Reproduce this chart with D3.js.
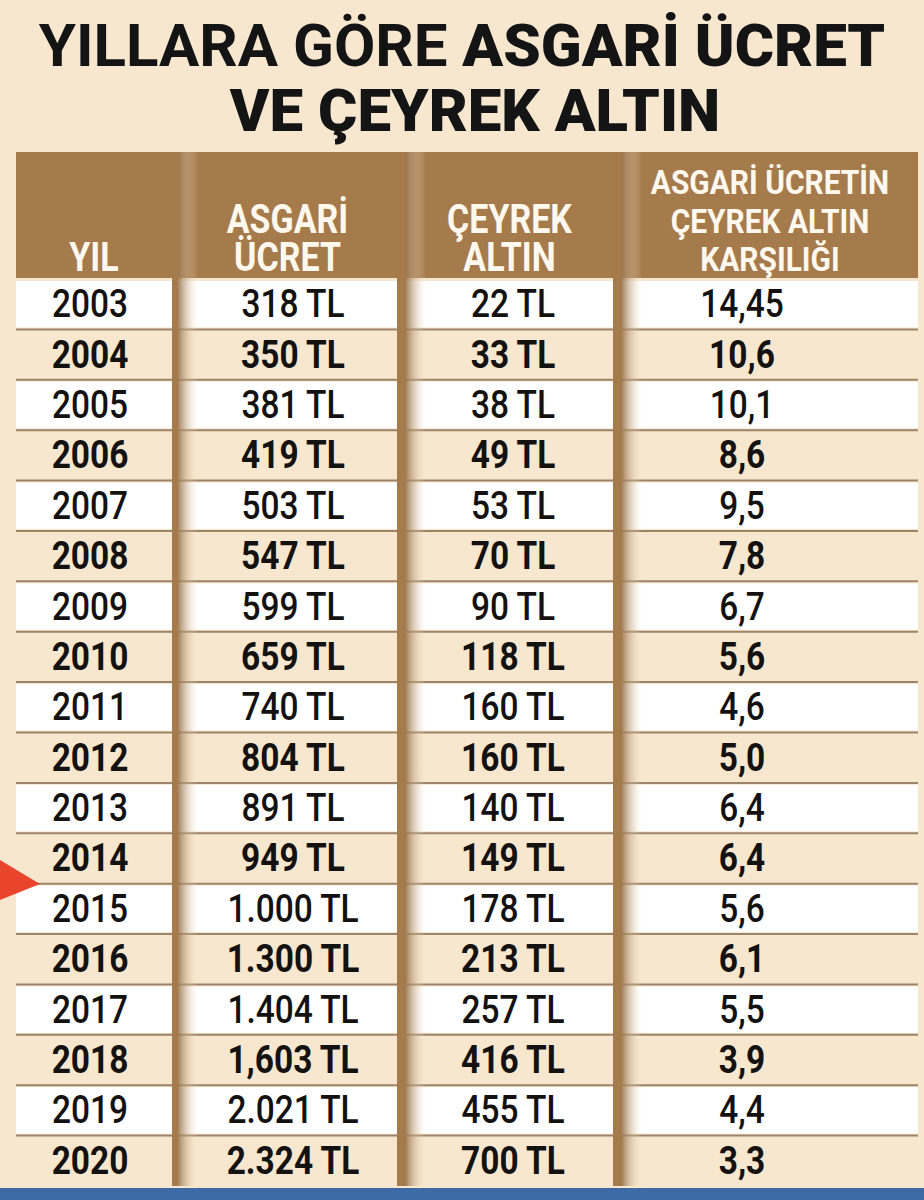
<!DOCTYPE html>
<html><head><meta charset="utf-8">
<script src="https://cdn.jsdelivr.net/npm/d3@7"></script>
<style>body{margin:0;background:#f8e7cf}</style></head>
<body><svg id="c" width="924" height="1200"></svg>
<script>
const years=["2003","2004","2005","2006","2007","2008","2009","2010","2011","2012","2013","2014","2015","2016","2017","2018","2019","2020"];
const asgari=["318 TL","350 TL","381 TL","419 TL","503 TL","547 TL","599 TL","659 TL","740 TL","804 TL","891 TL","949 TL","1.000 TL","1.300 TL","1.404 TL","1,603 TL","2.021 TL","2.324 TL"];
const ceyrek=["22 TL","33 TL","38 TL","49 TL","53 TL","70 TL","90 TL","118 TL","160 TL","160 TL","140 TL","149 TL","178 TL","213 TL","257 TL","416 TL","455 TL","700 TL"];
const oran=["14,45","10,6","10,1","8,6","9,5","7,8","6,7","5,6","4,6","5,0","6,4","6,4","5,6","6,1","5,5","3,9","4,4","3,3"];
const headers=[["YIL"],["ASGARİ","ÜCRET"],["ÇEYREK","ALTIN"],["ASGARİ ÜCRETİN","ÇEYREK ALTIN","KARŞILIĞI"]];

const svg=d3.select("#c");
const F="Roboto, 'DejaVu Sans Condensed', sans-serif";
const cols=[[16,172],[178,397],[406,613],[622,918]];
const y=d3.scaleBand().domain(years).range([279,1186]);
const defs=svg.append("defs");
const g=defs.append("linearGradient").attr("id","sh");
g.append("stop").attr("offset","0").attr("stop-color","#9a7650").attr("stop-opacity",0.9);
g.append("stop").attr("offset","1").attr("stop-color","#f8e7cf").attr("stop-opacity",0);
svg.append("rect").attr("width",924).attr("height",1200).attr("fill","#f8e7cf");
svg.append("rect").attr("x",16).attr("y",152).attr("width",902).attr("height",126).attr("fill","#a67b4b");
years.forEach((yr,i)=>{
  if(i%2===0) cols.forEach(c=>svg.append("rect").attr("x",c[0]).attr("y",y(yr)+2).attr("width",c[1]-c[0]).attr("height",y.bandwidth()-4).attr("fill","#ffffff"));
  if(i>0) svg.append("line").attr("x1",16).attr("x2",918).attr("y1",y(yr)).attr("y2",y(yr)).attr("stroke","#9c8468").attr("stroke-width",2);
});
cols.slice(1).forEach((c,i)=>{
  const prev=cols[i][1];
  svg.append("rect").attr("x",prev).attr("y",152).attr("width",c[0]-prev).attr("height",1034).attr("fill","#a67b4b");
  svg.append("rect").attr("x",c[0]).attr("y",152).attr("width",20).attr("height",1034).attr("fill","url(#sh)");
});
headers.forEach((h,ci)=>{
  const cx=(cols[ci][0]+cols[ci][1])/2;
  h.forEach((t,li)=>{
    const by=271-(h.length-1-li)*38.5;
    const three=h.length===3;
    svg.append("text").attr("transform",`translate(${cx},${by}) scale(${three?0.88:0.85},1)`).attr("text-anchor","middle")
      .attr("font-family",F).attr("font-weight",700).attr("font-size",three?34:40).attr("fill","#fff8ee").text(t);
  });
});
const data=[years,asgari,ceyrek,oran];
const cx=[90,293,513,742];
years.forEach((yr,i)=>{
  data.forEach((arr,ci)=>{
    svg.append("text").attr("transform",`translate(${cx[ci]},${y(yr)+y.bandwidth()/2+13}) scale(0.88,1)`)
      .attr("text-anchor","middle").attr("font-family",F).attr("font-weight",i%2?700:500)
      .attr("font-size",38).attr("fill","#141210").text(arr[i]);
  });
});
const t1=svg.append("text").attr("transform","translate(462,66) scale(1.0,1)").attr("text-anchor","middle")
  .attr("font-family",F).attr("font-size",60).attr("fill","#141414");
t1.append("tspan").attr("font-weight",700).text("YILLARA GÖRE ");
t1.append("tspan").attr("font-weight",900).text("ASGARİ ÜCRET");
svg.append("text").attr("transform","translate(475,131) scale(1.0,1)").attr("text-anchor","middle")
  .attr("font-family",F).attr("font-size",60).attr("font-weight",900).attr("fill","#141414").text("VE ÇEYREK ALTIN");
svg.append("path").attr("d","M0,860 L40,884 L0,900 Z").attr("fill","#e8452c");
svg.append("rect").attr("x",0).attr("y",1188).attr("width",924).attr("height",12).attr("fill","#3e6aa6");
</script></body></html>
